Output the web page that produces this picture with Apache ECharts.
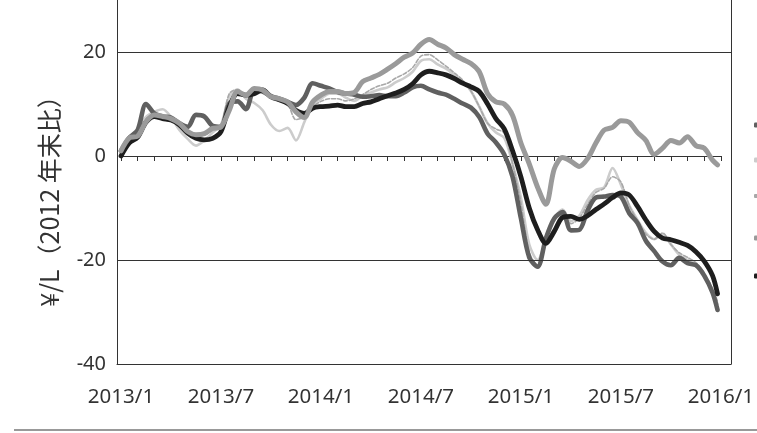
<!DOCTYPE html>
<html><head><meta charset="utf-8">
<script src="https://cdn.jsdelivr.net/npm/echarts@6/dist/echarts.min.js"></script>
<style>html,body{margin:0;padding:0;background:#fff}#c{width:757px;height:433px}</style>
</head><body><div id="c"></div>
<script>
// months since 2013/1
const months = [0,0.5,1,1.5,2,2.5,3,3.5,4,4.5,5,5.5,6,6.5,7,7.5,8,8.5,9,9.5,10,10.5,11,11.5,12,12.5,13,13.5,14,14.5,15,15.5,16,16.5,17,17.5,18,18.5,19,19.5,20,20.5,21,21.5,22,22.5,23,23.5,24,24.5,25,25.5,26,26.5,27,27.5,28,28.5,29,29.5,30,30.5,31,31.5,32,32.5,33,33.5,34,34.5,35,35.5,35.8];
const xTickLabels = ['2013/1','2013/7','2014/1','2014/7','2015/1','2015/7','2016/1'];
const yTicks = [-40,-20,0,20];
const gridValues = [20,-20];
const seriesNames = ['レギュラーガソリン','ハイオク','軽油','灯油','原油'];

const darkGray = [1,3.5,5,10,8.2,7.6,7.4,6.3,5.6,7.9,7.6,5.8,5.6,10.1,10.5,9,12.7,12.4,11.5,11,10.4,9.8,11.2,14,13.5,13,12.3,12,11.8,11.4,11.5,11.7,11.5,11.5,12.2,13.2,13.5,12.8,12.2,11.8,11,10.1,9.3,7.5,4.3,2.6,0.3,-4,-12,-19.5,-21.3,-15.8,-12,-10.8,-14.3,-14.2,-10.5,-8,-7.8,-7.5,-7.8,-11,-12.9,-16.3,-18.3,-20.3,-21,-19.6,-20.6,-21,-23,-26.3,-29.6];
const lightGray = [0.5,3,5,7.5,8.5,9,7.5,5,3.3,2,3,4.5,6,11.4,12.8,11,10.2,8.8,6,4.8,5.4,3,6.5,10,11,12,12,11.2,10.6,11.6,12.2,12.8,13.2,14.2,15,16.2,18.3,18.6,17.6,16.8,15.6,14.4,12.5,9.5,6.3,4.5,3.5,-1.5,-8,-17,-20,-16,-12,-10.3,-12.5,-11.5,-8.5,-6.5,-6,-2.3,-5.5,-9.5,-12.3,-14.8,-16,-15,-17,-19,-20,-20.8,-22.8,-25.8,-28.5];
const dashedGray = [0.8,3.3,4.5,7,8,7.8,7.3,6,4.5,3.8,4,5,6,12,12.8,11.5,12.3,12.3,11,10.5,10,7,7.5,9.5,10.5,11,11,10.6,11,11.8,12.8,13.5,14,15,15.8,17,19.2,19.5,18.5,17.3,16,14.6,12.5,9.5,6.3,5.2,4.4,-1.5,-9,-18.5,-21,-16,-12,-10.5,-13,-12,-9.3,-7,-6.2,-4,-5,-9.5,-12.5,-15,-16,-14.8,-17,-18.6,-19.5,-20.5,-22.5,-25.5,-28];
const midGray = [1,3.5,3.8,6.6,7.9,7.6,7.2,6.3,4.7,4.1,4.3,5.3,5.6,8.8,12.4,11.7,13,12.7,11.4,11,10.4,8.5,7.4,10.4,11.7,12.4,12.4,12,12.2,14.3,15,15.7,16.7,17.8,19,19.8,21.5,22.4,21.5,20.8,19.5,18.6,17.8,16.2,12,10.4,10,7.8,2.5,-1.5,-6,-9.3,-2.5,-0.3,-1,-2,-0.5,2.5,5,5.5,6.8,6.5,4.5,3,0.3,1.5,3,2.5,3.7,2,1.5,-0.8,-1.7];
const black = [0,2.5,3.6,6.5,7.6,7.2,6.9,6,4.4,3.4,3.1,3.4,4.7,9.5,12,11.7,12,12.7,11.4,10.8,10.1,8.8,8.2,9.2,9.5,9.6,9.8,9.5,9.5,10.1,10.4,11,11.6,12.1,12.8,13.9,15.6,16.3,16,15.6,14.9,14,13.3,12.4,10,7.2,5.2,1,-4,-10,-14.2,-16.8,-14.5,-11.8,-11.6,-12.2,-11.5,-10.3,-9.2,-8,-7.1,-7.5,-9.7,-12.3,-14.5,-15.8,-16.1,-16.6,-17.2,-18.4,-20.2,-23,-26.5];

function pairs(vals){ return months.map((m,i)=>[m, vals[i]]); }

const FONT = 'Noto Sans';
const chart = echarts.init(document.getElementById('c'));

function mkSeries(name, vals, color, width, type, z){
  return {name, type:'line', xAxisIndex:1, yAxisIndex:2, data:pairs(vals), symbol:'none', smooth:0.3,
    lineStyle:{color, width, type, cap:'round', join:'round'}, itemStyle:{color}, z, silent:true};
}
const legendTops = [115,150,185,228,266];
const legendColors = ['#606060','#cccccc','#a8a8a8','#9a9a9a','#1e1e1e'];
const legends = seriesNames.map((n,i)=>({data:[{name:n, icon:'roundRect', itemStyle:{color:legendColors[i]}}],
  left:749, top:legendTops[i]-(i===2?2:3), itemWidth:14, itemHeight:(i===2?4:5),
  textStyle:{fontFamily:FONT, fontSize:16, color:'#333'}, selectedMode:false}));

chart.setOption({
  animation:false,
  backgroundColor:'#fff',
  legend: legends,
  grid:[
    {left:117, right:26, top:0, bottom:69},
    {left:121, right:29.4, top:0, bottom:69}
  ],
  xAxis:[
    {gridIndex:0, type:'value', min:0, max:1, position:'bottom',
      axisLine:{show:true, onZero:false, lineStyle:{color:'#333', width:1}},
      axisTick:{show:false}, axisLabel:{show:false}, splitLine:{show:false}},
    {gridIndex:1, type:'value', min:0, max:36, interval:1, position:'bottom',
      axisLine:{onZero:true, lineStyle:{color:'#333', width:1}},
      axisTick:{show:true, length:5, lineStyle:{color:'#333'}},
      axisLabel:{show:false}, splitLine:{show:false}},
    {gridIndex:1, type:'value', min:0, max:36, interval:6, position:'bottom',
      axisLine:{show:false, onZero:false}, axisTick:{show:false}, splitLine:{show:false},
      axisLabel:{margin:23, fontFamily:FONT, fontSize:20.5, color:'#333',
        formatter:v=>xTickLabels[Math.round(v/6)]}}
  ],
  yAxis:[
    {gridIndex:0, type:'value', min:-40, max:30, interval:20, position:'left',
      axisLine:{show:true, onZero:false, lineStyle:{color:'#333', width:1}}, axisTick:{show:false},
      axisLabel:{margin:11, fontFamily:FONT, fontSize:20, color:'#333',
        formatter:v=>yTicks.indexOf(v)>=0 ? String(v) : ''},
      splitLine:{show:false}},
    {gridIndex:0, type:'value', min:-40, max:30, position:'right',
      axisLine:{show:true, onZero:false, lineStyle:{color:'#333', width:1}},
      axisTick:{show:false}, axisLabel:{show:false}, splitLine:{show:false}},
    {gridIndex:1, type:'value', min:-40, max:30, show:false}
  ],
  graphic:[
    {type:'text', x:49, y:195, rotation:Math.PI/2,
      style:{text:'¥/L（2012 年末比）', fontFamily:'Noto Sans CJK JP', fontSize:25, fill:'#333',
        align:'center', verticalAlign:'middle'}},
    {type:'line', shape:{x1:14, y1:430, x2:757, y2:430}, style:{stroke:'#999', lineWidth:2}}
  ],
  series:[
    {type:'line', xAxisIndex:0, yAxisIndex:0, data:[], silent:true, z:1,
      markLine:{silent:true, symbol:'none', label:{show:false},
        lineStyle:{color:'#333', width:1, type:'solid'},
        data:gridValues.map(v=>({yAxis:v}))}},
    mkSeries(seriesNames[1], lightGray, '#cccccc', 2.6, 'solid', 2),
    mkSeries(seriesNames[2], dashedGray, '#a8a8a8', 1.6, [4,2], 3),
    mkSeries(seriesNames[0], darkGray, '#606060', 4.6, 'solid', 4),
    mkSeries(seriesNames[4], black, '#1e1e1e', 4.8, 'solid', 5),
    mkSeries(seriesNames[3], midGray, '#9a9a9a', 5, 'solid', 6)
  ]
});
</script></body></html>
